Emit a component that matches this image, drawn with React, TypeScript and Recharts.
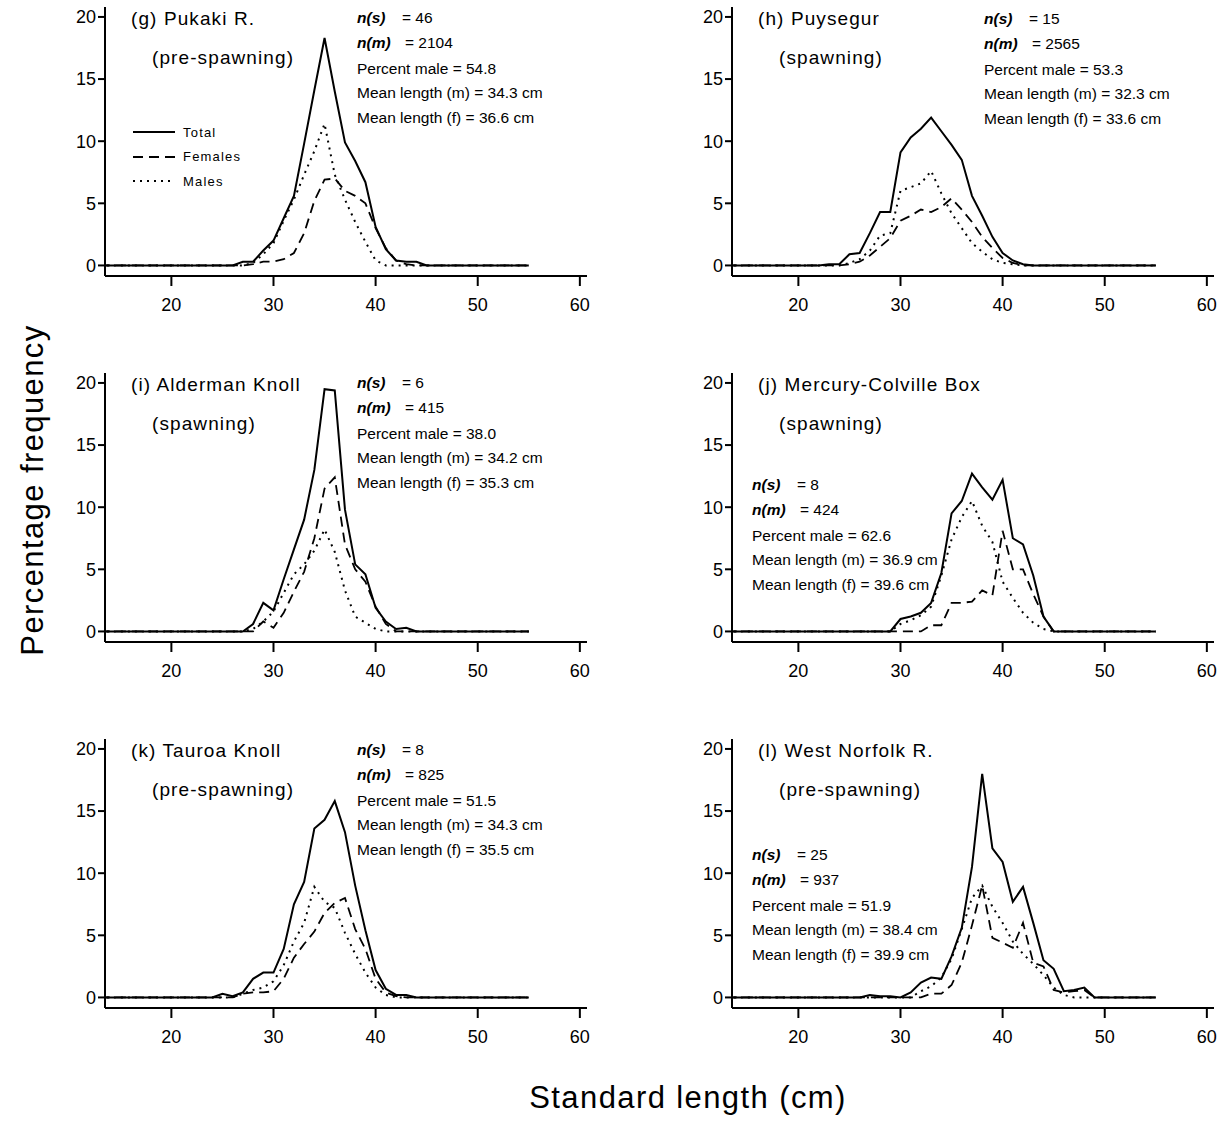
import { LineChart, Line, XAxis, YAxis, Legend } from "recharts";

// standard length classes (cm)
const lengths = [
  13, 14, 15, 16, 17, 18, 19, 20, 21, 22,
  23, 24, 25, 26, 27, 28, 29, 30, 31, 32,
  33, 34, 35, 36, 37, 38, 39, 40, 41, 42,
  43, 44, 45, 46, 47, 48, 49, 50, 51, 52,
  53, 54, 55,
];

// (g) Pukaki R.
const pukakiTotal = [
  0, 0, 0, 0, 0, 0, 0, 0, 0, 0,
  0, 0, 0, 0, 0.3, 0.3, 1.2, 2.0, 3.8, 5.6,
  9.8, 14.1, 18.3, 14.0, 9.9, 8.4, 6.7, 3.1, 1.3, 0.4,
  0.3, 0.3, 0, 0, 0, 0, 0, 0, 0, 0,
  0, 0, 0,
];
const pukakiFemales = [
  0, 0, 0, 0, 0, 0, 0, 0, 0, 0,
  0, 0, 0, 0, 0, 0.1, 0.3, 0.3, 0.5, 1.0,
  2.6, 5.2, 6.9, 7.0, 6.0, 5.6, 5.0, 3.0, 1.4, 0.4,
  0.1, 0, 0, 0, 0, 0, 0, 0, 0, 0,
  0, 0, 0,
];
const pukakiMales = [
  0, 0, 0, 0, 0, 0, 0, 0, 0, 0,
  0, 0, 0, 0, 0, 0.2, 0.9, 1.8, 3.6, 5.3,
  7.3, 9.2, 11.4, 7.3, 5.3, 3.5, 1.9, 0.4, 0, 0,
  0, 0, 0, 0, 0, 0, 0, 0, 0, 0,
  0, 0, 0,
];

// (h) Puysegur
const puysegurTotal = [
  0, 0, 0, 0, 0, 0, 0, 0, 0, 0,
  0.1, 0.1, 0.9, 1.0, 2.6, 4.3, 4.3, 9.1, 10.3, 11.0,
  11.9, 10.8, 9.7, 8.5, 5.6, 4.0, 2.3, 1.0, 0.4, 0.1,
  0, 0, 0, 0, 0, 0, 0, 0, 0, 0,
  0, 0, 0,
];
const puysegurFemales = [
  0, 0, 0, 0, 0, 0, 0, 0, 0, 0,
  0, 0, 0.1, 0.3, 0.8, 1.5, 2.2, 3.6, 4.0, 4.5,
  4.3, 4.7, 5.4, 4.5, 3.5, 2.3, 1.4, 0.6, 0.2, 0,
  0, 0, 0, 0, 0, 0, 0, 0, 0, 0,
  0, 0, 0,
];
const puysegurMales = [
  0, 0, 0, 0, 0, 0, 0, 0, 0, 0,
  0, 0, 0.2, 0.5, 1.2, 2.4, 2.6, 6.0, 6.3, 6.6,
  7.6, 5.8, 4.2, 3.0, 1.8, 1.1, 0.5, 0.2, 0.1, 0,
  0, 0, 0, 0, 0, 0, 0, 0, 0, 0,
  0, 0, 0,
];

// (i) Alderman Knoll
const aldermanTotal = [
  0, 0, 0, 0, 0, 0, 0, 0, 0, 0,
  0, 0, 0, 0, 0, 0.6, 2.3, 1.7, 4.2, 6.6,
  9.0, 13.0, 19.5, 19.4, 9.8, 5.4, 4.6, 1.9, 0.8, 0.2,
  0.3, 0, 0, 0, 0, 0, 0, 0, 0, 0,
  0, 0, 0,
];
const aldermanFemales = [
  0, 0, 0, 0, 0, 0, 0, 0, 0, 0,
  0, 0, 0, 0, 0, 0, 0.8, 0.3, 1.5, 3.2,
  4.8, 7.5, 11.5, 12.4, 7.0, 5.0, 4.0, 2.0, 0.6, 0,
  0, 0, 0, 0, 0, 0, 0, 0, 0, 0,
  0, 0, 0,
];
const aldermanMales = [
  0, 0, 0, 0, 0, 0, 0, 0, 0, 0,
  0, 0, 0, 0, 0, 0.2, 0.8, 1.6, 3.1, 4.6,
  5.4, 6.5, 8.2, 6.4, 3.3, 1.2, 0.7, 0.2, 0, 0,
  0, 0, 0, 0, 0, 0, 0, 0, 0, 0,
  0, 0, 0,
];

// (j) Mercury-Colville Box
const mercuryTotal = [
  0, 0, 0, 0, 0, 0, 0, 0, 0, 0,
  0, 0, 0, 0, 0, 0, 0, 1.0, 1.2, 1.5,
  2.3, 4.7, 9.5, 10.5, 12.7, 11.6, 10.6, 12.2, 7.5, 7.0,
  4.5, 1.2, 0, 0, 0, 0, 0, 0, 0, 0,
  0, 0, 0,
];
const mercuryFemales = [
  0, 0, 0, 0, 0, 0, 0, 0, 0, 0,
  0, 0, 0, 0, 0, 0, 0, 0, 0, 0,
  0.5, 0.5, 2.3, 2.3, 2.4, 3.3, 2.9, 8.1, 5.0, 5.0,
  3.0, 1.2, 0, 0, 0, 0, 0, 0, 0, 0,
  0, 0, 0,
];
const mercuryMales = [
  0, 0, 0, 0, 0, 0, 0, 0, 0, 0,
  0, 0, 0, 0, 0, 0, 0, 0.6, 0.9, 1.3,
  2.0, 4.5, 7.4, 9.2, 10.5, 8.5, 7.2, 4.0, 2.7, 1.5,
  0.7, 0.2, 0, 0, 0, 0, 0, 0, 0, 0,
  0, 0, 0,
];

// (k) Tauroa Knoll
const tauroaTotal = [
  0, 0, 0, 0, 0, 0, 0, 0, 0, 0,
  0, 0, 0.3, 0.1, 0.4, 1.5, 2.0, 2.0, 3.9, 7.5,
  9.3, 13.6, 14.3, 15.8, 13.3, 9.0, 5.4, 2.2, 0.7, 0.2,
  0.2, 0, 0, 0, 0, 0, 0, 0, 0, 0,
  0, 0, 0,
];
const tauroaFemales = [
  0, 0, 0, 0, 0, 0, 0, 0, 0, 0,
  0, 0, 0, 0, 0.3, 0.4, 0.4, 0.5, 1.5, 3.2,
  4.3, 5.3, 6.8, 7.6, 8.0, 5.5, 3.9, 1.5, 0.4, 0.1,
  0, 0, 0, 0, 0, 0, 0, 0, 0, 0,
  0, 0, 0,
];
const tauroaMales = [
  0, 0, 0, 0, 0, 0, 0, 0, 0, 0,
  0, 0, 0, 0, 0.3, 0.6, 0.8, 1.3, 2.6, 4.5,
  6.0, 8.9, 7.7, 7.2, 5.2, 3.5, 2.0, 0.8, 0.2, 0,
  0, 0, 0, 0, 0, 0, 0, 0, 0, 0,
  0, 0, 0,
];

// (l) West Norfolk R.
const norfolkTotal = [
  0, 0, 0, 0, 0, 0, 0, 0, 0, 0,
  0, 0, 0, 0, 0.2, 0.1, 0.1, 0, 0.4, 1.2,
  1.6, 1.5, 3.3, 5.6, 10.5, 18.0, 12.0, 10.9, 7.7, 8.9,
  6.0, 3.0, 2.3, 0.5, 0.6, 0.8, 0, 0, 0, 0,
  0, 0, 0,
];
const norfolkFemales = [
  0, 0, 0, 0, 0, 0, 0, 0, 0, 0,
  0, 0, 0, 0, 0, 0, 0, 0, 0, 0,
  0.3, 0.3, 1.0, 2.8, 5.8, 9.0, 4.8, 4.4, 4.0, 6.0,
  2.8, 2.5, 0.6, 0.4, 0.5, 0.6, 0, 0, 0, 0,
  0, 0, 0,
];
const norfolkMales = [
  0, 0, 0, 0, 0, 0, 0, 0, 0, 0,
  0, 0, 0, 0, 0, 0, 0, 0, 0, 0.5,
  0.9, 1.6, 3.1, 5.5, 8.0, 9.0, 7.3, 6.0, 4.5, 3.5,
  2.7, 1.8, 0.8, 0.2, 0, 0, 0, 0, 0, 0,
  0, 0, 0,
];

// panel annotations
const panelLabels = [
  "(g) Pukaki R.",
  "(h) Puysegur",
  "(i) Alderman Knoll",
  "(j) Mercury-Colville Box",
  "(k) Tauroa Knoll",
  "(l) West Norfolk R.",
];
const panelStages = ["(pre-spawning)", "(spawning)", "(spawning)", "(spawning)", "(pre-spawning)", "(pre-spawning)"];
const sampleCounts = ["46", "15", "6", "8", "8", "25"];
const measuredCounts = ["2104", "2565", "415", "424", "825", "937"];
const percentMale = ["54.8", "53.3", "38.0", "62.6", "51.5", "51.9"];
const meanLengthMale = ["34.3", "32.3", "34.2", "36.9", "34.3", "38.4"];
const meanLengthFemale = ["36.6", "33.6", "35.3", "39.6", "35.5", "39.9"];

const xTicks = [20, 30, 40, 50, 60];
const yTicks = [0, 5, 10, 15, 20];

const series = [
  { key: "total", name: "Total", dash: undefined as string | undefined, width: 2 },
  { key: "females", name: "Females", dash: "10 6", width: 1.8 },
  { key: "males", name: "Males", dash: "2 5", width: 2 },
];

const FONT = '"Liberation Sans", Arial, Helvetica, sans-serif';
const PANEL_W = 620;
const PANEL_H = 366;
const RIGHT_COL = 627;

// where the stats block sits inside each panel
const statsPos = [
  { x: 357, y: 18 },
  { x: 357, y: 19 },
  { x: 357, y: 17 },
  { x: 125, y: 119 },
  { x: 357, y: 18 },
  { x: 125, y: 123 },
];

function Txt({ x, y, children, style }: { x: number; y: number; children: React.ReactNode; style?: React.CSSProperties }) {
  return (
    <div
      style={{
        position: "absolute",
        left: x,
        top: y,
        transform: "translateY(-50%)",
        whiteSpace: "nowrap",
        lineHeight: 1,
        color: "#000",
        ...style,
      }}
    >
      {children}
    </div>
  );
}

function renderLegend() {
  return (
    <div style={{ fontFamily: FONT }}>
      {series.map((s) => (
        <div key={s.key} style={{ display: "flex", alignItems: "center", height: 24.5 }}>
          <svg width={42} height={6}>
            <line x1={0} y1={3} x2={42} y2={3} stroke="#000" strokeWidth={s.width} strokeDasharray={s.dash} />
          </svg>
          <span style={{ marginLeft: 8, fontSize: 13, letterSpacing: 1.2, color: "#000" }}>{s.name}</span>
        </div>
      ))}
    </div>
  );
}

type PanelProps = {
  idx: number;
  total: number[];
  females: number[];
  males: number[];
};

function Panel({ idx, total, females, males }: PanelProps) {
  const left = idx % 2 === 0 ? 0 : RIGHT_COL;
  const top = Math.floor(idx / 2) * PANEL_H;
  const data = lengths.map((len, i) => ({ len, total: total[i], females: females[i], males: males[i] }));
  const sp = statsPos[idx];
  const statFont: React.CSSProperties = { fontSize: 15.5 };
  const nFont: React.CSSProperties = { fontSize: 15.5, fontWeight: "bold", fontStyle: "italic" };

  return (
    <div style={{ position: "absolute", left, top, width: PANEL_W, height: PANEL_H }}>
      <LineChart width={PANEL_W} height={PANEL_H} data={data} margin={{ top: 7, right: 33, bottom: 50, left: 45 }}>
        <XAxis
          type="number"
          dataKey="len"
          domain={[13.5, 60.7]}
          allowDataOverflow
          ticks={xTicks}
          interval={0}
          height={40}
          tickSize={10}
          tickMargin={12}
          axisLine={{ stroke: "#000", strokeWidth: 2 }}
          tickLine={{ stroke: "#000", strokeWidth: 2 }}
          tick={{ fill: "#000", fontSize: 18, fontFamily: FONT }}
        />
        <YAxis
          type="number"
          domain={[-0.85, 20.8]}
          allowDataOverflow
          ticks={yTicks}
          interval={0}
          width={60}
          tickSize={7}
          tickMargin={2}
          axisLine={{ stroke: "#000", strokeWidth: 2 }}
          tickLine={{ stroke: "#000", strokeWidth: 2 }}
          tick={{ fill: "#000", fontSize: 18, fontFamily: FONT }}
        />
        {idx === 0 && (
          <Legend
            layout="vertical"
            align="center"
            verticalAlign="middle"
            content={renderLegend}
            wrapperStyle={{ left: 133, top: 120, width: "auto" }}
          />
        )}
        {series.map((s) => (
          <Line
            key={s.key}
            type="linear"
            dataKey={s.key}
            name={s.name}
            stroke="#000"
            strokeWidth={s.width}
            strokeDasharray={s.dash}
            dot={false}
            activeDot={false}
            isAnimationActive={false}
          />
        ))}
      </LineChart>

      <Txt x={131} y={18} style={{ fontSize: 19, letterSpacing: 1.1 }}>{panelLabels[idx]}</Txt>
      <Txt x={152} y={56.5} style={{ fontSize: 19, letterSpacing: 1.1 }}>{panelStages[idx]}</Txt>

      <Txt x={sp.x} y={sp.y} style={nFont}>n(s)</Txt>
      <Txt x={sp.x + 45} y={sp.y} style={statFont}>= {sampleCounts[idx]}</Txt>
      <Txt x={sp.x} y={sp.y + 25} style={nFont}>n(m)</Txt>
      <Txt x={sp.x + 48} y={sp.y + 25} style={statFont}>= {measuredCounts[idx]}</Txt>
      <Txt x={sp.x} y={sp.y + 51} style={statFont}>Percent male = {percentMale[idx]}</Txt>
      <Txt x={sp.x} y={sp.y + 75} style={statFont}>Mean length (m) = {meanLengthMale[idx]} cm</Txt>
      <Txt x={sp.x} y={sp.y + 100} style={statFont}>Mean length (f) = {meanLengthFemale[idx]} cm</Txt>
    </div>
  );
}

export default function App() {
  return (
    <div
      style={{
        position: "absolute",
        left: 0,
        top: 0,
        width: 1232,
        height: 1146,
        background: "#fff",
        fontFamily: FONT,
        color: "#000",
        overflow: "hidden",
      }}
    >
      <Panel idx={0} total={pukakiTotal} females={pukakiFemales} males={pukakiMales} />
      <Panel idx={1} total={puysegurTotal} females={puysegurFemales} males={puysegurMales} />
      <Panel idx={2} total={aldermanTotal} females={aldermanFemales} males={aldermanMales} />
      <Panel idx={3} total={mercuryTotal} females={mercuryFemales} males={mercuryMales} />
      <Panel idx={4} total={tauroaTotal} females={tauroaFemales} males={tauroaMales} />
      <Panel idx={5} total={norfolkTotal} females={norfolkFemales} males={norfolkMales} />

      <div
        style={{
          position: "absolute",
          left: 32,
          top: 490,
          transform: "translate(-50%, -50%) rotate(-90deg)",
          whiteSpace: "nowrap",
          fontSize: 31,
          letterSpacing: 1.4,
          lineHeight: 1,
        }}
      >
        Percentage frequency
      </div>
      <div
        style={{
          position: "absolute",
          left: 688,
          top: 1097,
          transform: "translate(-50%, -50%)",
          whiteSpace: "nowrap",
          fontSize: 31,
          letterSpacing: 1.4,
          lineHeight: 1,
        }}
      >
        Standard length (cm)
      </div>
    </div>
  );
}
